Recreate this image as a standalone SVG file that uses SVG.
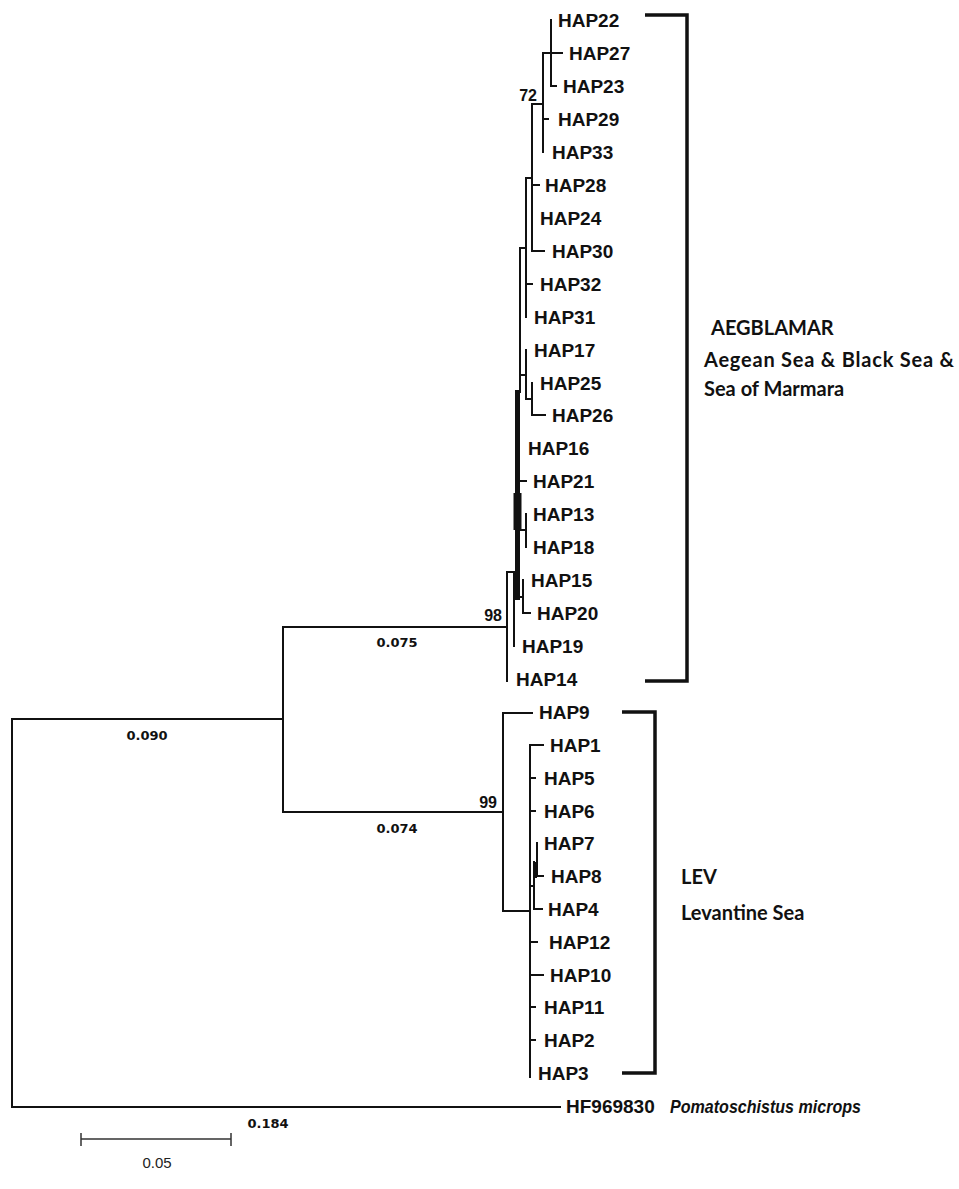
<svg xmlns="http://www.w3.org/2000/svg" width="959" height="1189" viewBox="0 0 959 1189">
<style>
.t{stroke:#111;stroke-width:2;fill:none;stroke-linecap:square}
.tk{stroke:#111;fill:none}
.br{stroke:#111;stroke-width:3.5;fill:none}
.lb{font-family:"Liberation Sans",Arial,sans-serif;font-weight:bold;font-size:19px;fill:#111}
.bs{font-family:"Liberation Sans",Arial,sans-serif;font-weight:bold;font-size:16px;fill:#111}
.bl{font-family:"DejaVu Sans",Verdana,sans-serif;font-weight:bold;font-size:13px;fill:#111;text-anchor:middle}
.cl{font-family:Lato,"Open Sans",sans-serif;font-weight:bold;font-size:20px;fill:#111}
.sc{font-family:"Liberation Sans",Arial,sans-serif;font-size:15px;fill:#222;text-anchor:middle}
</style>
<rect width="959" height="1189" fill="#fff"/>
<g id="connectors">
<path class="t" d="M12 719V1107M12 719H283M12 1107H560M283 627V812"/>
<path class="t" d="M283 627H507M507 572V681M507 572H514M514 572V646"/>
<path class="t" d="M551 20V86M543 53H562M551 86H556"/>
<path class="t" d="M543 53V152M543 119H548M532 104H543"/>
<path class="t" d="M532 104V251M532 185H539M532 251H544M526 178H532"/>
<path class="t" d="M526 178V317M526 284H532M520 248H526"/>
<path class="t" d="M520 248V392"/>
<path class="t" d="M526 350V399M520 375H526M532 383V415M532 415H545M526 399H532"/>
<path class="tk" stroke-width="5" d="M517.5 390V600"/>
<path class="tk" stroke-width="8" d="M517.5 493V530"/>
<path class="t" d="M519 481H526M526 514V547M519 530H526"/>
<path class="t" d="M523 580V613M523 613H530M517 597H523"/>
<path class="t" d="M283 812H503M503 713V911M503 713H532M503 911H530"/>
<path class="t" d="M530 745V1077M530 745H543M530 778H535M530 811H535"/>
<path class="t" d="M537 843V876M537 876H543M534 862V909M534 909H542M530 886H534"/>
<path class="tk" stroke-width="3" d="M535.5 862V878"/>
<path class="t" d="M530 942H537M530 975H543M530 1007H535M530 1040H535"/>
<path class="br" d="M645 15H687V681H645"/>
<path class="br" d="M622 712H655V1073H622"/>
<path stroke="#333" stroke-width="1.5" fill="none" d="M81 1139H231M81 1133V1146M231 1133V1146"/>
</g>
<g id="labels">
<text class="lb" x="558" y="27">HAP22</text>
<text class="lb" x="569" y="60">HAP27</text>
<text class="lb" x="563" y="93">HAP23</text>
<text class="lb" x="558" y="126">HAP29</text>
<text class="lb" x="552" y="159">HAP33</text>
<text class="lb" x="545" y="192">HAP28</text>
<text class="lb" x="540" y="225">HAP24</text>
<text class="lb" x="552" y="258">HAP30</text>
<text class="lb" x="540" y="291">HAP32</text>
<text class="lb" x="534" y="324">HAP31</text>
<text class="lb" x="534" y="357">HAP17</text>
<text class="lb" x="540" y="390">HAP25</text>
<text class="lb" x="552" y="422">HAP26</text>
<text class="lb" x="528" y="455">HAP16</text>
<text class="lb" x="533" y="488">HAP21</text>
<text class="lb" x="533" y="521">HAP13</text>
<text class="lb" x="533" y="554">HAP18</text>
<text class="lb" x="531" y="587">HAP15</text>
<text class="lb" x="537" y="620">HAP20</text>
<text class="lb" x="522" y="653">HAP19</text>
<text class="lb" x="516" y="686">HAP14</text>
<text class="lb" x="539" y="719">HAP9</text>
<text class="lb" x="550" y="752">HAP1</text>
<text class="lb" x="544" y="785">HAP5</text>
<text class="lb" x="544" y="818">HAP6</text>
<text class="lb" x="544" y="850">HAP7</text>
<text class="lb" x="551" y="883">HAP8</text>
<text class="lb" x="548" y="916">HAP4</text>
<text class="lb" x="549" y="949">HAP12</text>
<text class="lb" x="550" y="982">HAP10</text>
<text class="lb" x="544" y="1014">HAP11</text>
<text class="lb" x="544" y="1047">HAP2</text>
<text class="lb" x="538" y="1080">HAP3</text>
<text class="lb" x="566" y="1113">HF969830</text>
<text class="lb" x="670" y="1113" font-style="italic" font-size="15" textLength="191" lengthAdjust="spacingAndGlyphs">Pomatoschistus microps</text>
</g>
<g id="support">
<text class="bs" x="537" y="101" text-anchor="end">72</text>
<text class="bs" x="502" y="621" text-anchor="end">98</text>
<text class="bs" x="497" y="808" text-anchor="end">99</text>
</g>
<g id="branch-lengths">
<text class="bl" x="397" y="647">0.075</text>
<text class="bl" x="147" y="740">0.090</text>
<text class="bl" x="397" y="833">0.074</text>
<text class="bl" x="268" y="1128">0.184</text>
</g>
<g id="clade-aegblamar">
<text class="cl" x="711" y="335">AEGBLAMAR</text>
<text class="cl" x="704" y="367" textLength="250" lengthAdjust="spacing">Aegean Sea &amp; Black Sea &amp;</text>
<text class="cl" x="704" y="396">Sea of Marmara</text>
</g>
<g id="clade-lev">
<text class="cl" x="681" y="884" font-size="18">LEV</text>
<text class="cl" x="681" y="920" font-size="18">Levantine Sea</text>
</g>
<g id="scale">
<text class="sc" x="157" y="1168">0.05</text>
</g>
</svg>
